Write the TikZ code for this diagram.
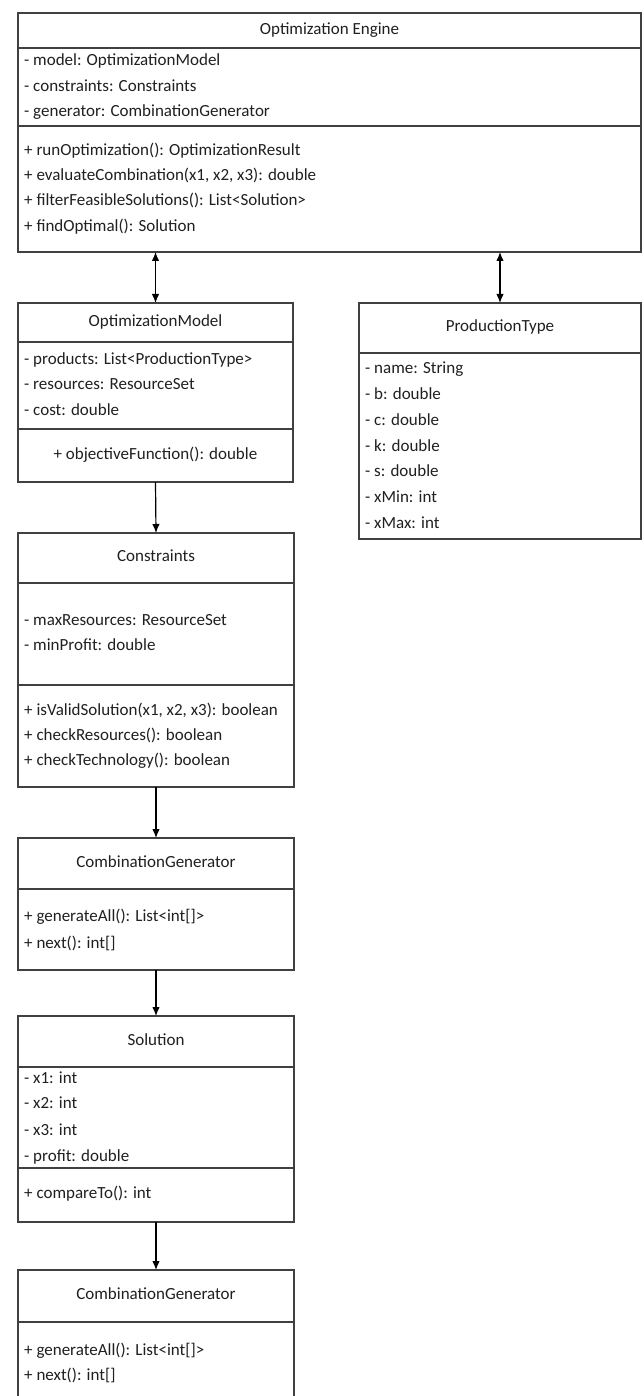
\documentclass[tikz,border=0pt]{standalone}
\usepackage{fontspec}
\setmainfont{Carlito}
\usetikzlibrary{arrows.meta}
\tikzset{>={Latex[length=9pt,width=7.5pt]}}
\definecolor{linegray}{HTML}{404040}
\definecolor{textgray}{HTML}{202020}
\tikzset{
  cell/.style={draw=linegray, line width=1.2pt, anchor=north west, inner sep=0pt, outer sep=0pt},
  item/.style={anchor=west, inner sep=0pt, text height=11pt, text depth=3.5pt, text=textgray, font=\fontsize{17}{20}\selectfont},
  head/.style={inner sep=0pt, text height=11pt, text depth=3.5pt, text=textgray, font=\fontsize{17}{20}\selectfont},
  link/.style={draw=black, line width=1.2pt}
}

\begin{document}
\begin{tikzpicture}[x=1pt, y=-1pt]
  \clip (0,0) rectangle (643,1396);
  \fill[white] (0,0) rectangle (643,1396);

  % Optimization Engine
  \node[cell, minimum width=623pt, minimum height=35pt] (engT) at (18,13) {};
  \node[cell, minimum width=623pt, minimum height=78pt] (engA) at (18,48) {};
  \node[cell, minimum width=623pt, minimum height=126pt] (engM) at (18,126) {};
  \node[head] (engN) at (engT.center) {Optimization Engine};
  \node[item] (engA1) at (24,62) {- model: OptimizationModel};
  \node[item] (engA2) at (24,88) {- constraints: Constraints};
  \node[item] (engA3) at (24,113) {- generator: CombinationGenerator};
  \node[item] (engM1) at (24,152) {+ runOptimization(): OptimizationResult};
  \node[item] (engM2) at (24,177) {+ evaluateCombination(x1, x2, x3): double};
  \node[item] (engM3) at (24,202) {+ filterFeasibleSolutions(): List<Solution>};
  \node[item] (engM4) at (24,228) {+ findOptimal(): Solution};

  % OptimizationModel
  \node[cell, minimum width=275pt, minimum height=39pt] (modT) at (18,303) {};
  \node[cell, minimum width=275pt, minimum height=87pt] (modA) at (18,342) {};
  \node[cell, minimum width=275pt, minimum height=53pt] (modM) at (18,429) {};
  \node[head] (modN) at (modT.center) {OptimizationModel};
  \node[item] (modA1) at (24,361) {- products: List<ProductionType>};
  \node[item] (modA2) at (24,386) {- resources: ResourceSet};
  \node[item] (modA3) at (24,412) {- cost: double};
  \node[head] (modM1) at (modM.center) {+ objectiveFunction(): double};

  % ProductionType
  \node[cell, minimum width=282pt, minimum height=50pt] (ptT) at (359,303) {};
  \node[cell, minimum width=282pt, minimum height=186pt] (ptA) at (359,353) {};
  \node[head] (ptN) at (ptT.center) {ProductionType};
  \node[item] (ptA1) at (365,370) {- name: String};
  \node[item] (ptA2) at (365,396) {- b: double};
  \node[item] (ptA3) at (365,422) {- c: double};
  \node[item] (ptA4) at (365,448) {- k: double};
  \node[item] (ptA5) at (365,473) {- s: double};
  \node[item] (ptA6) at (365,499) {- xMin: int};
  \node[item] (ptA7) at (365,525) {- xMax: int};

  % Constraints
  \node[cell, minimum width=276pt, minimum height=50pt] (conT) at (18,533) {};
  \node[cell, minimum width=276pt, minimum height=102pt] (conA) at (18,583) {};
  \node[cell, minimum width=276pt, minimum height=102pt] (conM) at (18,685) {};
  \node[head] (conN) at (conT.center) {Constraints};
  \node[item] (conA1) at (24,622) {- maxResources: ResourceSet};
  \node[item] (conA2) at (24,647) {- minProfit: double};
  \node[item] (conM1) at (24,712) {+ isValidSolution(x1, x2, x3): boolean};
  \node[item] (conM2) at (24,737) {+ checkResources(): boolean};
  \node[item] (conM3) at (24,762) {+ checkTechnology(): boolean};

  % CombinationGenerator
  \node[cell, minimum width=276pt, minimum height=51pt] (genT) at (18,838) {};
  \node[cell, minimum width=276pt, minimum height=81pt] (genM) at (18,889) {};
  \node[head] (genN) at (genT.center) {CombinationGenerator};
  \node[item] (genM1) at (24,918) {+ generateAll(): List<int[]>};
  \node[item] (genM2) at (24,945) {+ next(): int[]};

  % Solution
  \node[cell, minimum width=276pt, minimum height=51pt] (solT) at (18,1016) {};
  \node[cell, minimum width=276pt, minimum height=101pt] (solA) at (18,1067) {};
  \node[cell, minimum width=276pt, minimum height=54pt] (solM) at (18,1168) {};
  \node[head] (solN) at (solT.center) {Solution};
  \node[item] (solA1) at (24,1080) {- x1: int};
  \node[item] (solA2) at (24,1105) {- x2: int};
  \node[item] (solA3) at (24,1132) {- x3: int};
  \node[item] (solA4) at (24,1158) {- profit: double};
  \node[item] (solM1) at (24,1195) {+ compareTo(): int};

  % CombinationGenerator (second)
  \node[cell, minimum width=276pt, minimum height=52pt] (gen2T) at (18,1270) {};
  \node[cell, minimum width=276pt, minimum height=100pt] (gen2M) at (18,1322) {};
  \node[head] (gen2N) at (gen2T.center) {CombinationGenerator};
  \node[item] (gen2M1) at (24,1352) {+ generateAll(): List<int[]>};
  \node[item] (gen2M2) at (24,1377) {+ next(): int[]};

  % links
  \draw[link, <->] (engM.south -| modT.north) -- (modT.north);
  \draw[link, <->] (engM.south -| ptT.north) -- (ptT.north);
  \draw[link, ->] (modM.south) -- (conT.north);
  \draw[link, ->] (conM.south) -- (genT.north);
  \draw[link, ->] (genM.south) -- (solT.north);
  \draw[link, ->] (solM.south) -- (gen2T.north);
\end{tikzpicture}
\end{document}
